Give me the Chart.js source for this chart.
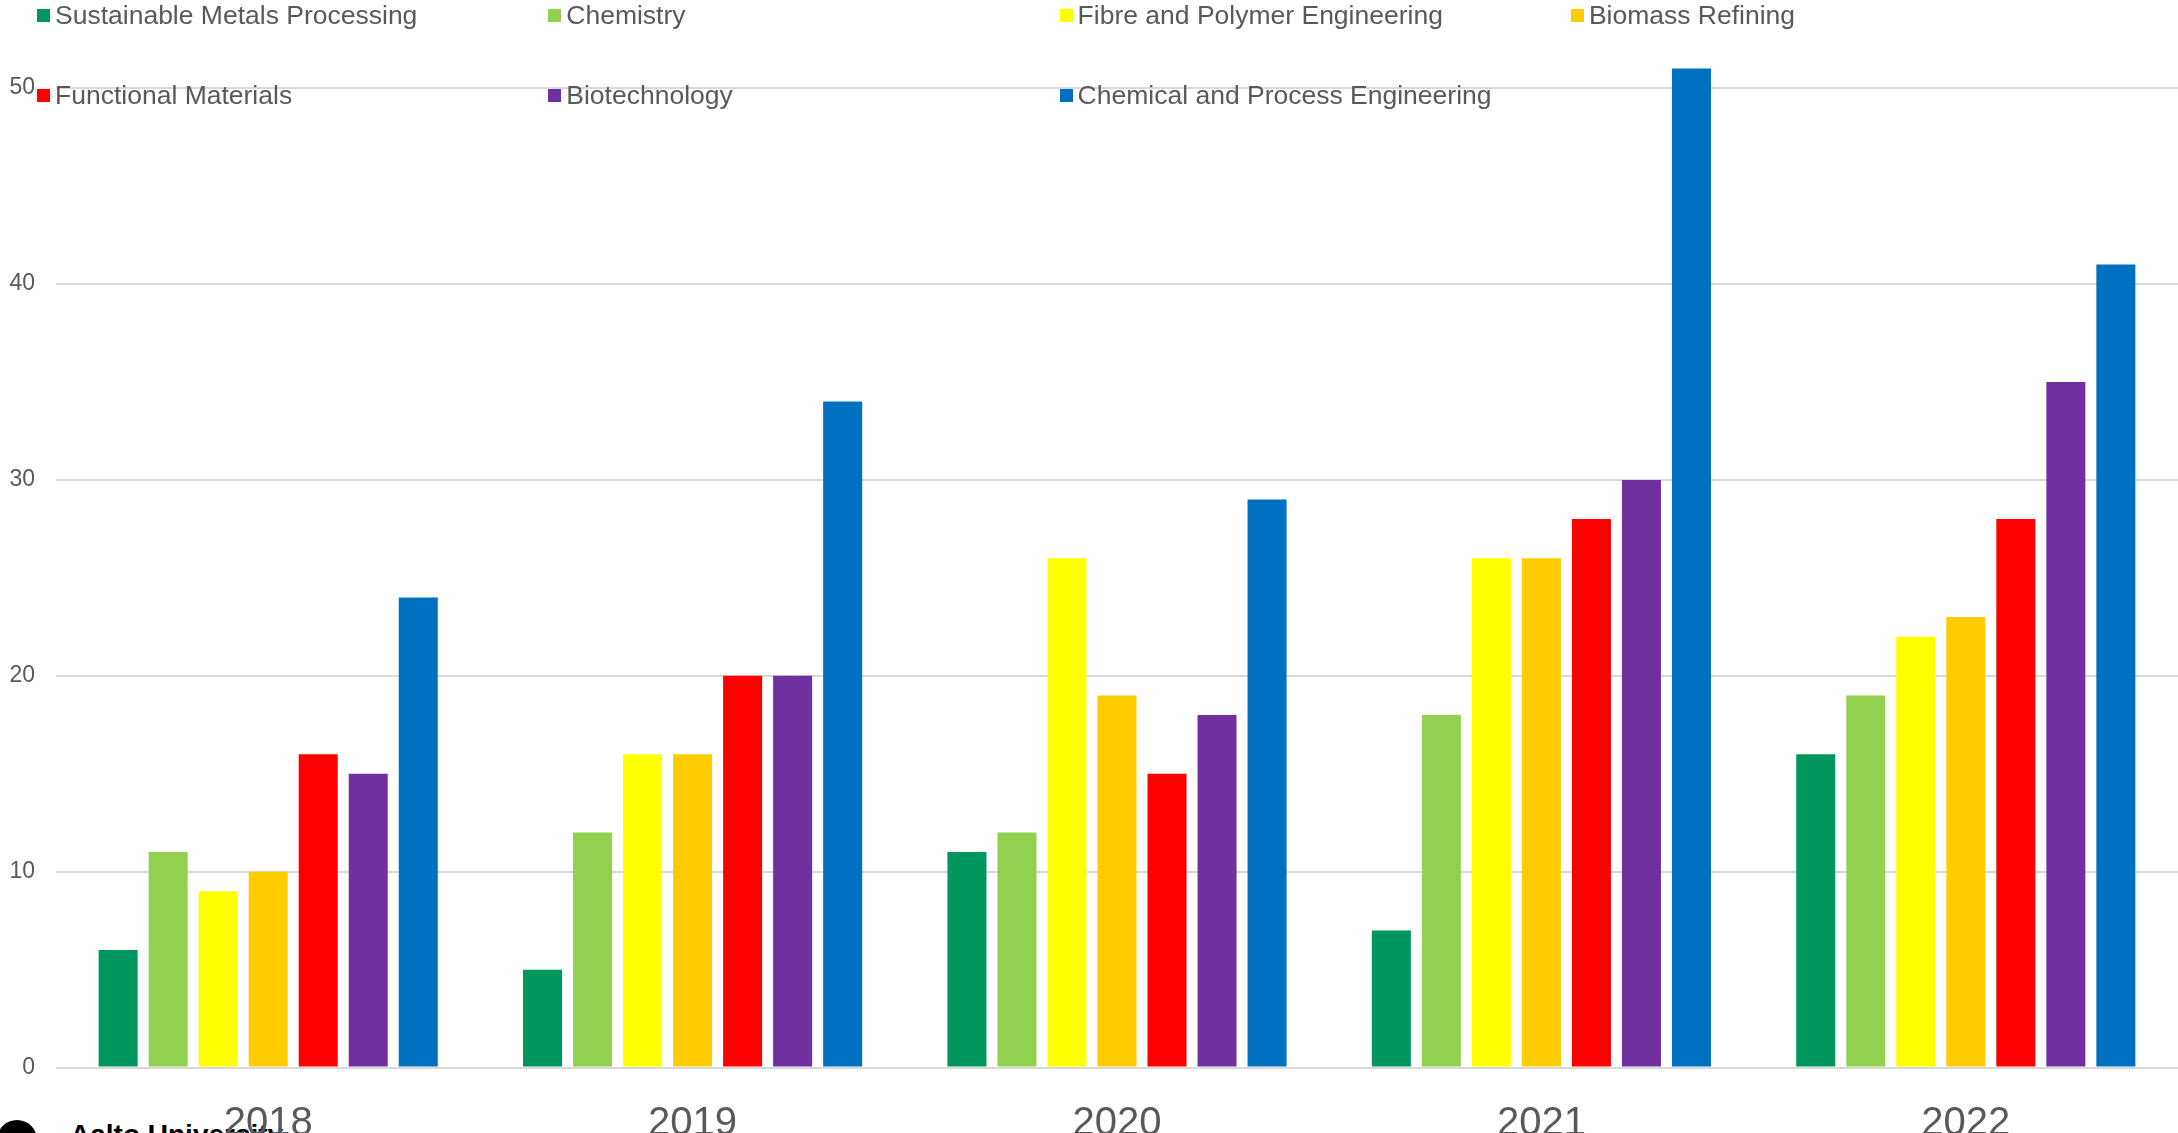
<!DOCTYPE html>
<html>
<head>
<meta charset="utf-8">
<script src="https://cdn.jsdelivr.net/npm/chart.js@4"></script>
<style>
  body { margin: 0; background: #fff; }
  #wrap { position: relative; width: 2178px; height: 1133px; overflow: hidden; font-family: "Liberation Sans", Arial, sans-serif; }
  #chartBox { position: absolute; left: 0; top: 0; width: 2178px; height: 1133px; z-index: 2; }
  .leg-box { position: absolute; width: 13px; height: 13px; z-index: 3; }
  .leg-text { position: absolute; font-size: 26.5px; line-height: 26px; color: #595959; white-space: nowrap; z-index: 3; }
  #logoMark { position: absolute; left: -3px; top: 1120px; width: 40px; height: 40px; border-radius: 50%; background: #000; z-index: 1; }
  #logoText { position: absolute; left: 70px; top: 1121px; font-size: 28px; line-height: 28px; font-weight: bold; color: #000; white-space: nowrap; z-index: 1; }
</style>
</head>
<body>
<div id="wrap">
  <div id="logoMark"></div>
  <div id="logoText">Aalto University</div>
  <div id="chartBox"><canvas id="barChart"></canvas></div>
</div>
<script>
const years = ["2018", "2019", "2020", "2021", "2022"];

const seriesNames = [
    "Sustainable Metals Processing",
    "Chemistry",
    "Fibre and Polymer Engineering",
    "Biomass Refining",
    "Functional Materials",
    "Biotechnology",
    "Chemical and Process Engineering"
];

const seriesColors = ["#00965E", "#92D050", "#FFFF00", "#FFCC00", "#FF0000", "#7030A0", "#0070C0"];

const metals = [6, 5, 11, 7, 16];
const chemistry = [11, 12, 12, 18, 19];
const fibre = [9, 16, 26, 26, 22];
const biomass = [10, 16, 19, 26, 23];
const functional = [16, 20, 15, 28, 28];
const biotech = [15, 20, 18, 30, 35];
const chemProcess = [24, 34, 29, 51, 41];

const seriesValues = [metals, chemistry, fibre, biomass, functional, biotech, chemProcess];

const yTicks = [0, 10, 20, 30, 40, 50];

// legend, 4 columns in two rows
const wrap = document.getElementById("wrap");
seriesNames.forEach((name, i) => {
    const col = i % 4;
    const row = Math.floor(i / 4);
    const x = 37 + col * 511.3;
    const box = document.createElement("div");
    box.className = "leg-box";
    box.style.left = x + "px";
    box.style.top = (9 + row * 79.5) + "px";
    box.style.background = seriesColors[i];
    wrap.appendChild(box);
    const txt = document.createElement("div");
    txt.className = "leg-text";
    txt.style.left = (x + 18) + "px";
    txt.style.top = (2.3 + row * 79.5) + "px";
    txt.textContent = name;
    wrap.appendChild(txt);
});

const ctx = document.getElementById("barChart");

new Chart(
    ctx, {
        type: "bar",
        data: {
            labels: years,
            datasets: seriesNames.map((name, i) => ({
                label: name,
                data: seriesValues[i],
                backgroundColor: seriesColors[i],
                borderWidth: 0,
                categoryPercentage: 0.825,
                barPercentage: 0.78
            }))
        },
        options: {
            responsive: true,
            maintainAspectRatio: false,
            animation: false,
            layout: { padding: { left: 9, right: 0, top: 0, bottom: 0 } },
            plugins: {
                legend: { display: false },
                tooltip: { enabled: false }
            },
            scales: {
                x: {
                    grid: { display: false },
                    border: { display: false },
                    afterFit: (scale) => {
                        scale.paddingLeft = 0;
                        scale.paddingRight = 0;
                        scale.height = 65.4;
                    },
                    ticks: {
                        color: "#595959",
                        padding: 31,
                        font: { family: "'Liberation Sans', Arial, sans-serif", size: 40, lineHeight: 0.85 }
                    }
                },
                y: {
                    min: 0,
                    max: 54.5,
                    afterBuildTicks: (scale) => {
                        scale.ticks = yTicks.map(v => ({ value: v }));
                    },
                    afterFit: (scale) => {
                        scale.paddingTop = 0;
                        scale.paddingBottom = 0;
                        scale.width = 47;
                    },
                    grid: { color: "#d9d9d9", lineWidth: 2, drawTicks: false },
                    border: { display: false },
                    ticks: {
                        color: "#595959",
                        padding: 21,
                        font: { family: "'Liberation Sans', Arial, sans-serif", size: 23 }
                    }
                }
            }
        }
    }
)
</script>
</body>
</html>
